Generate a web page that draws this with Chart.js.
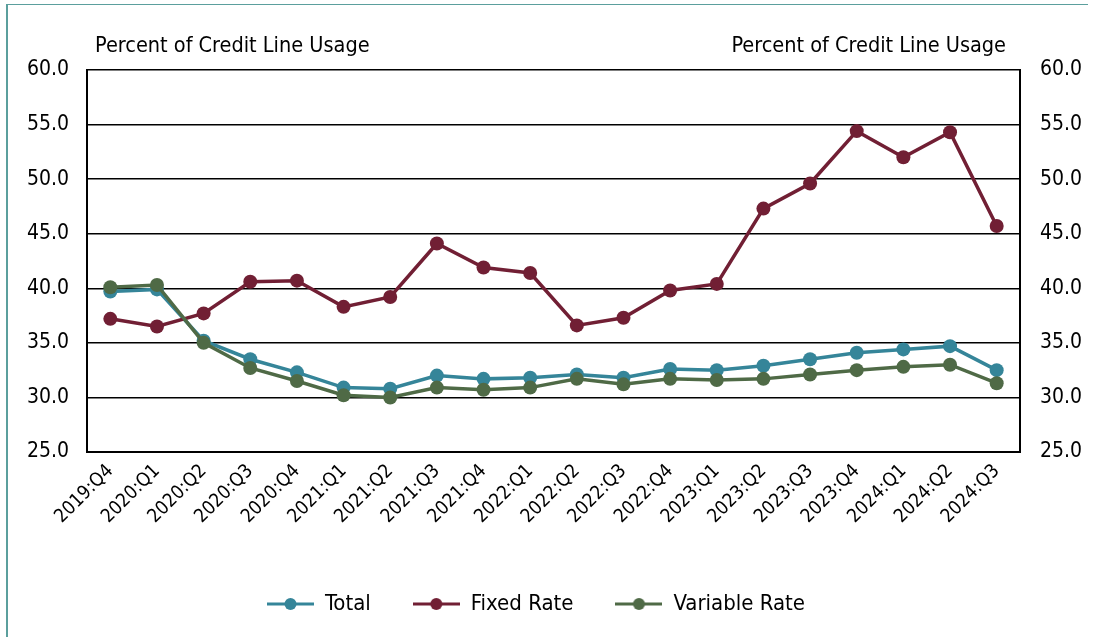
<!DOCTYPE html>
<html>
<head>
<meta charset="utf-8">
<script src="https://cdn.jsdelivr.net/npm/chart.js@4"></script>
<style>
  html, body { margin: 0; padding: 0; background: #fff; }
  #wrap { position: relative; width: 1094px; height: 637px; }
  #frame { position: absolute; left: 6px; top: 4px; right: 6px; bottom: 0; border-left: 2px solid #5b9f9d; border-top: 1px solid #5b9f9d; pointer-events: none; }
</style>
</head>
<body>
<div id="wrap">
  <canvas id="myChart" width="1094" height="637"></canvas>
  <div id="frame"></div>
</div>
<script>
var quarters = ['2019:Q4', '2020:Q1', '2020:Q2', '2020:Q3', '2020:Q4', '2021:Q1', '2021:Q2', '2021:Q3', '2021:Q4', '2022:Q1',
  '2022:Q2', '2022:Q3', '2022:Q4', '2023:Q1', '2023:Q2', '2023:Q3', '2023:Q4', '2024:Q1', '2024:Q2', '2024:Q3'];
var totalValues = [39.7, 39.9, 35.2, 33.5, 32.3, 30.9, 30.8, 32.0, 31.7, 31.8, 32.1, 31.8, 32.6, 32.5, 32.9, 33.5, 34.1, 34.4, 34.7, 32.5];
var fixedValues = [37.2, 36.5, 37.7, 40.6, 40.7, 38.3, 39.2, 44.1, 41.9, 41.4, 36.6, 37.3, 39.8, 40.4, 47.3, 49.6, 54.4, 52.0, 54.3, 45.7];
var variableValues = [40.1, 40.3, 35.0, 32.7, 31.5, 30.2, 30.0, 30.9, 30.7, 30.9, 31.7, 31.2, 31.7, 31.6, 31.7, 32.1, 32.5, 32.8, 33.0, 31.3];
var seriesNames = ['Total', 'Fixed Rate', 'Variable Rate'];
var seriesColors = ['#358599', '#711f34', '#4f6a46'];
var axisTitle = 'Percent of Credit Line Usage';

var fontFamily = '"DejaVu Sans Condensed", "DejaVu Sans", sans-serif';
Chart.defaults.font.family = fontFamily;
Chart.defaults.font.size = 21;
Chart.defaults.color = '#000';

// little line + dot icon for the legend
function legendIcon(color) {
  var c = document.createElement('canvas');
  c.width = 47; c.height = 14;
  var g = c.getContext('2d');
  g.strokeStyle = color;
  g.lineWidth = 3;
  g.beginPath(); g.moveTo(0, 7); g.lineTo(47, 7); g.stroke();
  g.fillStyle = color;
  g.beginPath(); g.arc(23.5, 7, 6, 0, Math.PI * 2); g.fill();
  return c;
}
var icons = seriesColors.map(legendIcon);

// axis titles above both y axes, legend nudged a bit to the left
const axisTitles = {
  id: 'axisTitles',
  afterLayout(chart) {
    if (chart.legend) {
      chart.legend.left -= 11;
      chart.legend.right -= 11;
    }
  },
  afterDraw(chart) {
    const ctx = chart.ctx;
    ctx.save();
    ctx.font = '21.5px ' + fontFamily;
    ctx.fillStyle = '#000';
    ctx.textBaseline = 'middle';
    ctx.textAlign = 'left';
    ctx.fillText(axisTitle, 95, 46);
    ctx.textAlign = 'right';
    ctx.fillText(axisTitle, 1006, 46);
    ctx.restore();
  }
};

function makeSet(i, values, order) {
  return {
    label: seriesNames[i],
    data: values,
    borderColor: seriesColors[i],
    backgroundColor: seriesColors[i],
    borderWidth: 3.5,
    pointRadius: 7,
    pointHoverRadius: 7,
    pointBorderWidth: 0,
    tension: 0,
    order: order
  };
}

const ctx = document.getElementById('myChart').getContext('2d');
let myChart = new Chart(ctx, {
  type: 'line',
  data: {
    labels: quarters,
    datasets: [
      makeSet(0, totalValues, 2),
      makeSet(1, fixedValues, 1),
      makeSet(2, variableValues, 0)
    ]
  },
  options: {
    responsive: false,
    animation: false,
    layout: { padding: { top: 70, bottom: 12, left: 0, right: 0 } },
    scales: {
      x: {
        offset: true,
        grid: { display: false, drawTicks: false },
        border: { display: true, color: '#000', width: 2 },
        ticks: { minRotation: 45, maxRotation: 45, padding: 8, autoSkip: false, font: { size: 19 } },
        afterFit: function (scale) { scale.height = 99; }
      },
      y: {
        position: 'left',
        min: 25, max: 60,
        grid: { color: '#000', lineWidth: 1.5, drawTicks: false },
        border: { display: true, color: '#000', width: 2 },
        ticks: { stepSize: 5, padding: 18, callback: function (v) { return v.toFixed(1); } },
        afterFit: function (scale) { scale.width = 87; }
      },
      y2: {
        position: 'right',
        min: 25, max: 60,
        grid: { display: false, drawTicks: false },
        border: { display: true, color: '#000', width: 2 },
        ticks: { stepSize: 5, padding: 20, callback: function (v) { return v.toFixed(1); } },
        afterFit: function (scale) { scale.width = 74; }
      }
    },
    plugins: {
      tooltip: { enabled: false },
      legend: {
        display: true,
        position: 'bottom',
        labels: {
          usePointStyle: true,
          pointStyleWidth: 47,
          padding: 42,
          font: { size: 22 },
          generateLabels: function (chart) {
            return chart.data.datasets.map(function (ds, i) {
              return {
                text: ds.label,
                pointStyle: icons[i],
                fillStyle: ds.borderColor,
                strokeStyle: ds.borderColor,
                lineWidth: 0,
                hidden: false,
                fontColor: '#000',
                datasetIndex: i
              };
            });
          }
        }
      }
    }
  },
  plugins: [axisTitles]
});
</script>
</body>
</html>
